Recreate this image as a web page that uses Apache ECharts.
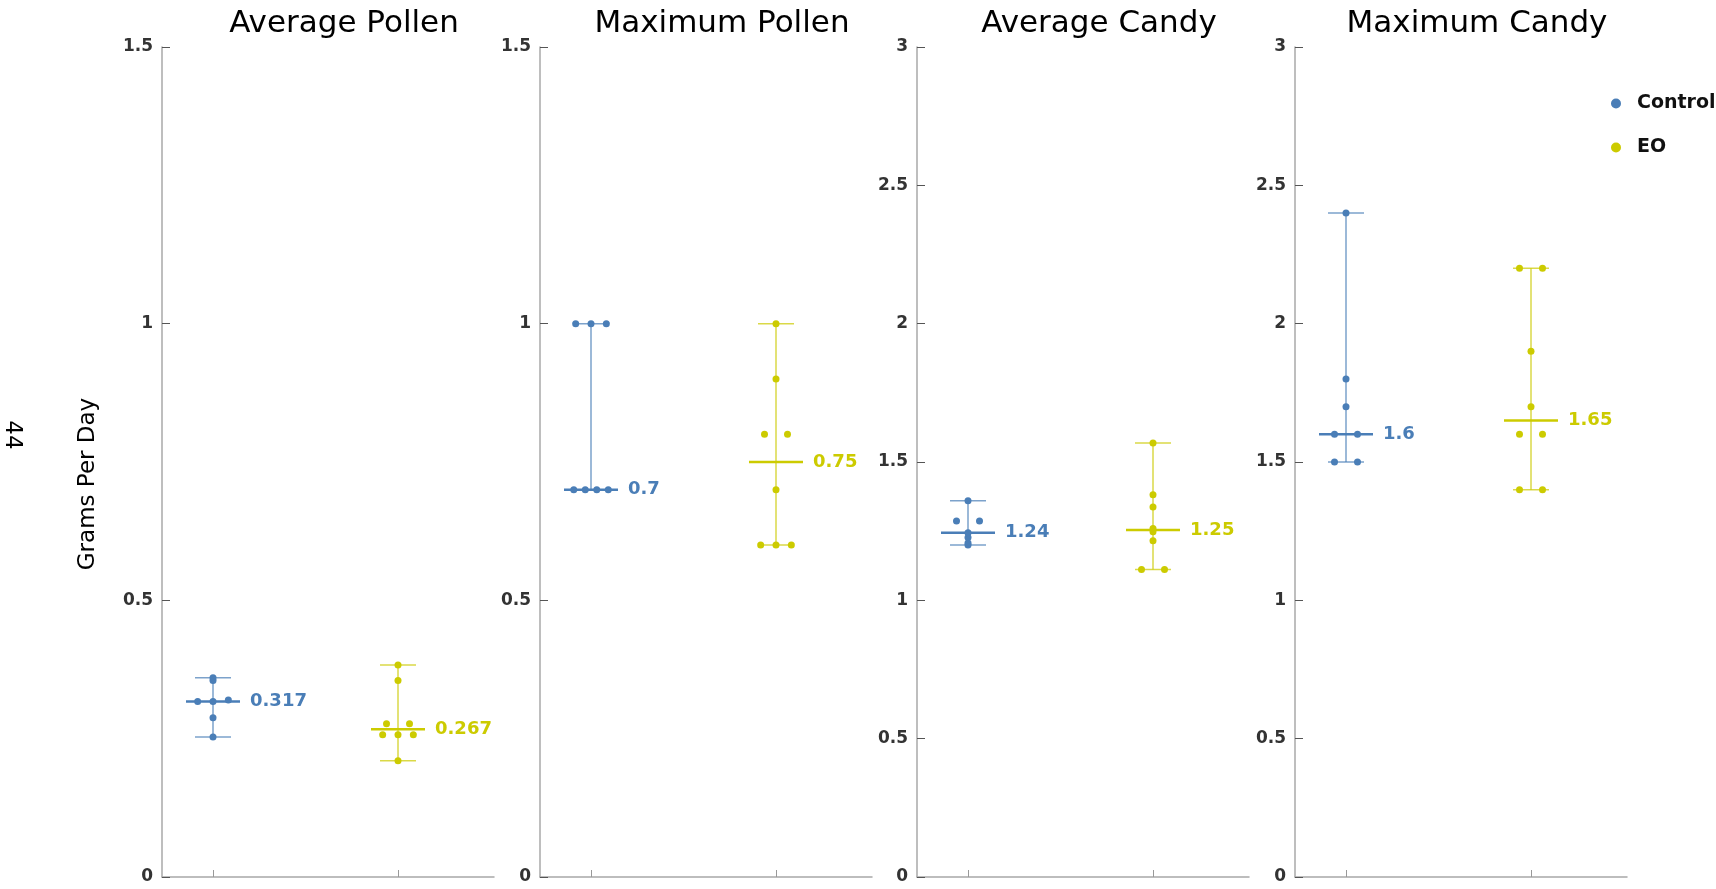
<!DOCTYPE html>
<html>
<head>
<meta charset="utf-8">
<title>Grams Per Day</title>
<script src="https://cdn.jsdelivr.net/npm/echarts@6/dist/echarts.min.js"></script>
<style>
  html, body { margin: 0; padding: 0; background: #ffffff; }
  #chart { width: 1716px; height: 889px; }
</style>
</head>
<body>
<div id="chart"></div>
<script>
// Panel titles and group names
const panelTitles = ['Average Pollen', 'Maximum Pollen', 'Average Candy', 'Maximum Candy'];
const groupNames = ['Control', 'EO'];
const yAxisMax = [1.5, 1.5, 3, 3];
const yAxisStep = [0.5, 0.5, 0.5, 0.5];

// Grams per day, one value per animal
const avgPollenControl = [0.36, 0.355, 0.32, 0.317, 0.317, 0.288, 0.253];
const avgPollenEO      = [0.383, 0.355, 0.277, 0.277, 0.257, 0.257, 0.257, 0.21];
const maxPollenControl = [1, 1, 1, 0.7, 0.7, 0.7, 0.7];
const maxPollenEO      = [1, 0.9, 0.8, 0.8, 0.7, 0.6, 0.6, 0.6];
const avgCandyControl  = [1.36, 1.287, 1.287, 1.244, 1.227, 1.207, 1.2];
const avgCandyEO       = [1.569, 1.382, 1.337, 1.26, 1.248, 1.215, 1.111, 1.111];
const maxCandyControl  = [2.4, 1.8, 1.7, 1.6, 1.6, 1.5, 1.5];
const maxCandyEO       = [2.2, 2.2, 1.9, 1.7, 1.6, 1.6, 1.4, 1.4];

const panelData = [
  [avgPollenControl, avgPollenEO],
  [maxPollenControl, maxPollenEO],
  [avgCandyControl, avgCandyEO],
  [maxCandyControl, maxCandyEO]
];

// Layout
const GRID_LEFTS = [162, 540, 917, 1295];
const GRID_W = 332, GRID_TOP = 47, GRID_H = 830;
const PX_PER_X = 185;                       // one group step in pixels
const X_MIN = 1 - 51 / PX_PER_X;
const X_MAX = X_MIN + GRID_W / PX_PER_X;
const SPREAD_PX = 46;                       // width shared by dots with equal values
const COLORS = ['#4a7eb7', '#cccb00'];
const FONT = '"DejaVu Sans", "Liberation Sans", sans-serif';

function median(values) {
  const s = values.slice().sort((a, b) => a - b);
  const n = s.length;
  return n % 2 ? s[(n - 1) / 2] : (s[n / 2 - 1] + s[n / 2]) / 2;
}

// Put dots with (nearly) equal values side by side around the group position
function spreadPoints(values, center, yMax) {
  const pxPerY = GRID_H / yMax;
  const sorted = values.slice().sort((a, b) => a - b);
  const groups = [];
  sorted.forEach(v => {
    const g = groups[groups.length - 1];
    if (g && (v - g[0]) * pxPerY < 1.8) g.push(v); else groups.push([v]);
  });
  const pts = [];
  groups.forEach(g => {
    const n = g.length, slot = SPREAD_PX / n;
    g.forEach((v, i) => pts.push([center + (i - (n - 1) / 2) * slot / PX_PER_X, v]));
  });
  return pts;
}

function makeRangeRenderer(color) {
  return function (params, api) {
    const x = api.value(0), lo = api.value(1), hi = api.value(2), med = api.value(3);
    const pLo = api.coord([x, lo]), pHi = api.coord([x, hi]), pMed = api.coord([x, med]);
    const thin = { stroke: color, lineWidth: 1.5, opacity: 0.72 };
    const label = String(+med.toPrecision(3));
    return {
      type: 'group',
      children: [
        { type: 'line', shape: { x1: pLo[0], y1: pLo[1], x2: pHi[0], y2: pHi[1] }, style: thin },
        { type: 'line', shape: { x1: pLo[0] - 18, y1: pLo[1], x2: pLo[0] + 18, y2: pLo[1] }, style: thin },
        { type: 'line', shape: { x1: pHi[0] - 18, y1: pHi[1], x2: pHi[0] + 18, y2: pHi[1] }, style: thin },
        { type: 'line', shape: { x1: pMed[0] - 27, y1: pMed[1], x2: pMed[0] + 27, y2: pMed[1] },
          style: { stroke: color, lineWidth: 2.5 } },
        { type: 'text', x: pMed[0] + 37, y: pMed[1],
          style: { text: label, fill: color, font: 'bold 18px ' + FONT, align: 'left', verticalAlign: 'middle' } }
      ]
    };
  };
}

const grids = [], xAxes = [], yAxes = [], series = [], graphics = [];

panelTitles.forEach((title, p) => {
  grids.push({ left: GRID_LEFTS[p], top: GRID_TOP, width: GRID_W, height: GRID_H, containLabel: false });
  xAxes.push({
    gridIndex: p, type: 'value', min: X_MIN, max: X_MAX,
    axisLine: { show: true, onZero: false, lineStyle: { color: '#a8a8a8', width: 1.5 } },
    axisTick: { show: true, inside: true, length: 7, customValues: [1, 2], lineStyle: { color: '#999', width: 1 } },
    axisLabel: { show: false },
    splitLine: { show: false }
  });
  yAxes.push({
    gridIndex: p, type: 'value', min: 0, max: yAxisMax[p], interval: yAxisStep[p],
    axisLine: { show: true, lineStyle: { color: '#a8a8a8', width: 1.5 } },
    axisTick: { show: true, inside: true, length: 8, lineStyle: { color: '#555', width: 1 } },
    axisLabel: { color: '#333', fontFamily: FONT, fontWeight: 'bold', fontSize: 17, margin: 9 },
    splitLine: { show: false }
  });

  graphics.push({
    type: 'text', x: GRID_LEFTS[p] + 182, y: 24,
    style: { text: title, fill: '#000', font: '31px ' + FONT, align: 'center', verticalAlign: 'middle' }
  });

  panelData[p].forEach((values, g) => {
    const center = g + 1;
    const sorted = values.slice().sort((a, b) => a - b);
    series.push({
      type: 'custom', xAxisIndex: p, yAxisIndex: p, silent: true, z: 2,
      renderItem: makeRangeRenderer(COLORS[g]),
      encode: { x: 0, y: [1, 2, 3] },
      data: [[center, sorted[0], sorted[sorted.length - 1], median(values)]]
    });
    series.push({
      type: 'scatter', name: groupNames[g], xAxisIndex: p, yAxisIndex: p, z: 3,
      symbol: 'circle', symbolSize: 7, itemStyle: { color: COLORS[g], opacity: 1 },
      silent: true,
      data: spreadPoints(values, center, yAxisMax[p])
    });
  });
});

// Shared axis title and page number
graphics.push({
  type: 'text', x: 88, y: 484, rotation: Math.PI / 2,
  style: { text: 'Grams Per Day', fill: '#000', font: '23px ' + FONT, align: 'center', verticalAlign: 'middle' }
});
graphics.push({
  type: 'text', x: 12, y: 435, rotation: -Math.PI / 2,
  style: { text: '44', fill: '#000', font: '23px ' + FONT, align: 'center', verticalAlign: 'middle' }
});

const chart = echarts.init(document.getElementById('chart'), null, { renderer: 'canvas' });
chart.setOption({
  animation: false,
  backgroundColor: '#ffffff',
  grid: grids,
  xAxis: xAxes,
  yAxis: yAxes,
  legend: {
    data: groupNames, orient: 'vertical', left: 1606, top: 89,
    icon: 'circle', itemWidth: 32, itemHeight: 10, itemGap: 25,
    selectedMode: false,
    textStyle: { color: '#111', fontFamily: FONT, fontWeight: 'bold', fontSize: 19 }
  },
  graphic: graphics,
  series: series
});
</script>
</body>
</html>
